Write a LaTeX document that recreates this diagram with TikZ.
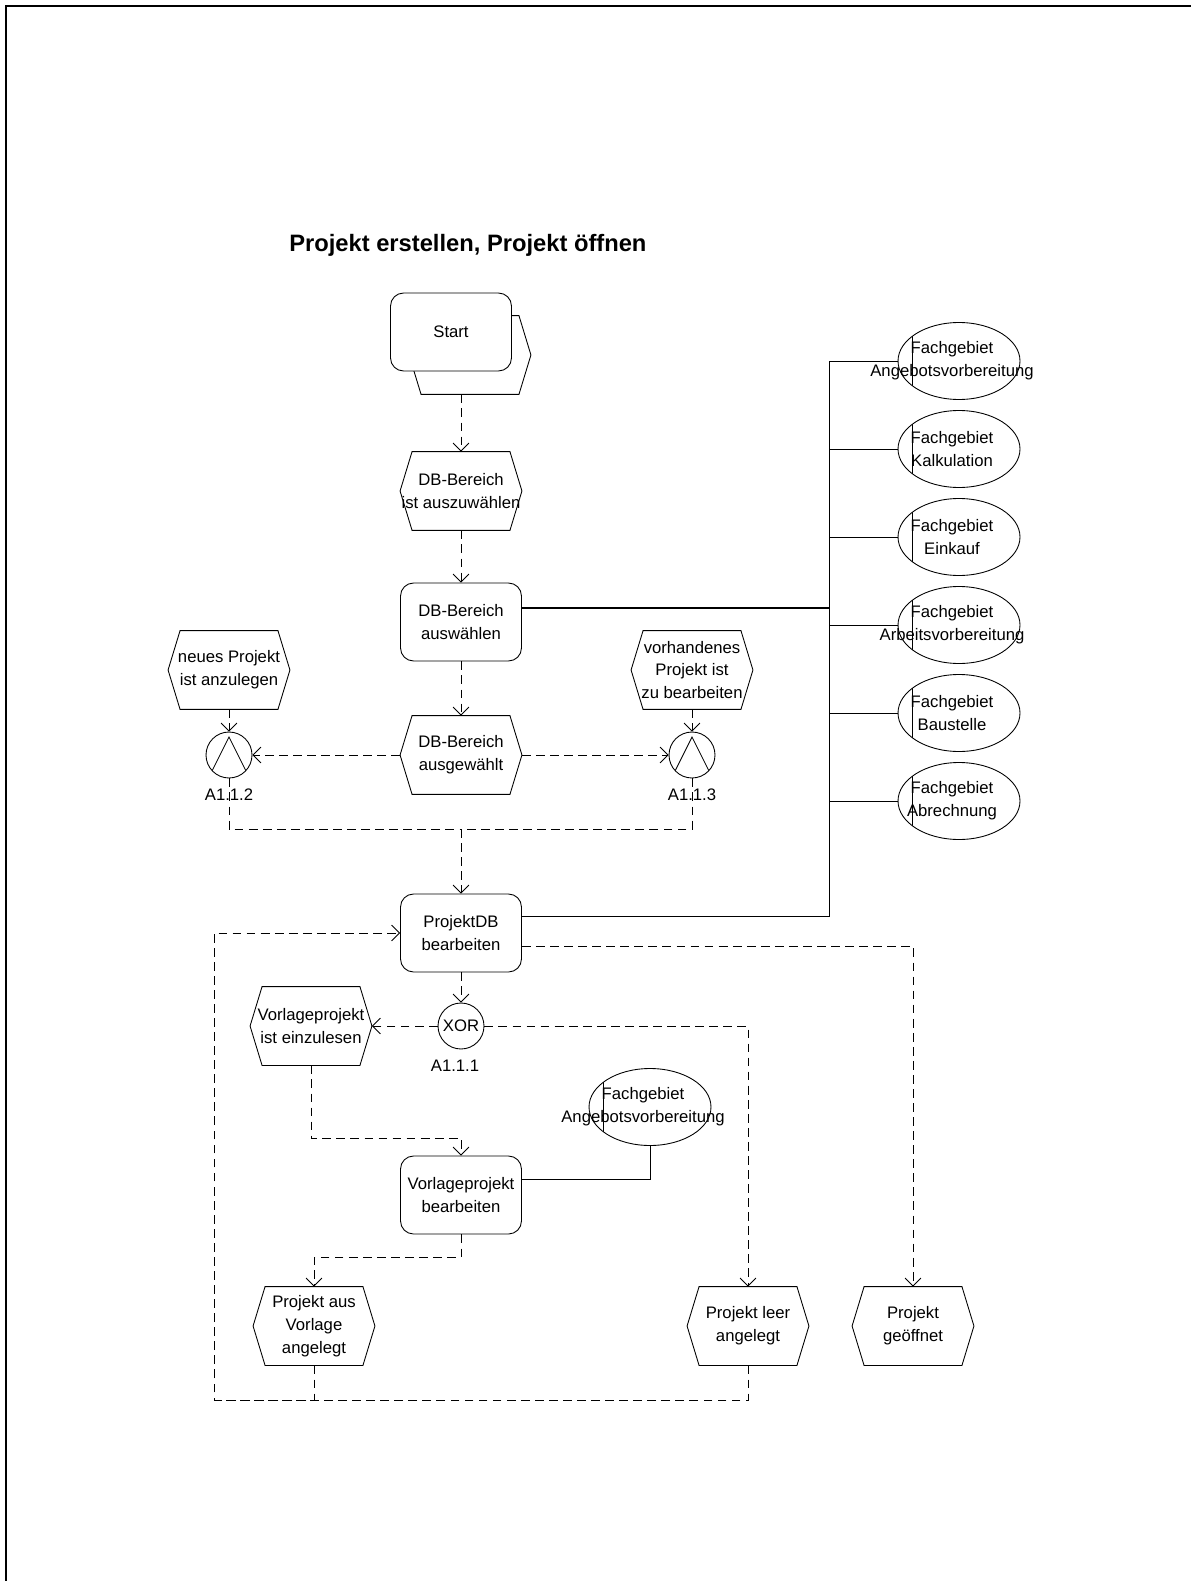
\documentclass[tikz,border=0pt]{standalone}
\usepackage{fontspec}
\setmainfont{Liberation Sans}
\usetikzlibrary{arrows.meta,positioning,shapes.geometric,calc}
\newcommand{\nodefont}{\fontsize{9.5}{13}\selectfont}

\begin{document}
\begin{tikzpicture}[
    x=0.02cm, y=-0.02cm,
    line width=0.5pt,
    >={Straight Barb[length=4.5pt,width=9pt]},
    func/.style={draw, rounded corners=2.6mm, font=\nodefont, align=center, minimum width=24.2mm, minimum height=15.6mm, inner sep=0pt},
    event/.style={font=\nodefont, align=center, minimum width=24.2mm, minimum height=15.6mm, inner sep=0pt,
      append after command={\pgfextra{\let\hexnode\tikzlastnode
        \draw[line width=0.5pt] (\hexnode.west) -- ([xshift=2.4mm]\hexnode.north west) -- ([xshift=-2.4mm]\hexnode.north east)
          -- (\hexnode.east) -- ([xshift=-2.4mm]\hexnode.south east) -- ([xshift=2.4mm]\hexnode.south west) -- cycle;}}},
    orgunit/.style={draw, ellipse, minimum width=24.4mm, minimum height=15.4mm, inner sep=0pt,
      path picture={\draw[line width=0.5pt] ([xshift=2.8mm]path picture bounding box.north west) -- ([xshift=2.8mm]path picture bounding box.south west);}},
    orgtext/.style={font=\nodefont, align=center, inner sep=0pt},
    rule/.style={draw, circle, minimum size=9.2mm, inner sep=0pt, font=\nodefont},
    andrule/.style={rule, path picture={\draw[line width=0.5pt] ([shift={(-4mm,-4.4mm)}]path picture bounding box.center) -- ([yshift=3.6mm]path picture bounding box.center) -- ([shift={(4mm,-4.4mm)}]path picture bounding box.center);}},
    rulelabel/.style={font=\nodefont, inner sep=0pt},
    conn/.style={dash pattern=on 5pt off 3pt},
    flow/.style={conn, ->},
  ]
  \useasboundingbox (0,0) rectangle (1191,1581);
  \draw[line width=1.2pt] (6,1581) -- (6,6) -- (1191,6);

  % title
  \node[font=\fontsize{13.5}{16}\selectfont\bfseries, anchor=west] (title) at (283,245) {Projekt erstellen, Projekt öffnen};

  % start
  \node[event] (startbg) at (470,355) {};
  \node[func, fill=white] (start) at (451,332) {Start};

  % main column
  \node[event] (dbAuszuw) at (461,491) {DB-Bereich\\ist auszuwählen};
  \node[func] (dbAuswaehlen) at (461,622) {DB-Bereich\\auswählen};
  \node[event] (dbGewaehlt) at (461,755) {DB-Bereich\\ausgewählt};
  \node[event] (neuesProj) at (229,670) {neues Projekt\\ist anzulegen};
  \node[event] (vorhProj) at (692,670) {vorhandenes\\Projekt ist\\zu bearbeiten};
  \node[andrule] (and1) at (229,755) {};
  \node[andrule] (and2) at (692,755) {};
  \node[rulelabel] (and1lbl) at (229,795) {A1.1.2};
  \node[rulelabel] (and2lbl) at (692,795) {A1.1.3};
  \coordinate (join) at (461,829);
  \node[func] (projektDB) at (461,933) {ProjektDB\\bearbeiten};
  \node[rule] (xor) at (461,1026) {XOR};
  \node[rulelabel] (xorlbl) at (455,1066) {A1.1.1};
  \node[event] (vorlEinl) at (311,1026) {Vorlageprojekt\\ist einzulesen};
  \node[func] (vorlBearb) at (461,1195) {Vorlageprojekt\\bearbeiten};
  \node[orgunit] (fgAV2) at (650,1107) {};
  \node[orgtext] (fgAV2txt) at ([xshift=-1.4mm]fgAV2.center) {Fachgebiet\\Angebotsvorbereitung};

  % end events
  \node[event] (ausVorlage) at (314,1326) {Projekt aus\\Vorlage\\angelegt};
  \node[event] (leer) at (748,1326) {Projekt leer\\angelegt};
  \node[event] (geoeffnet) at (913,1326) {Projekt\\geöffnet};

  % organisational units
  \coordinate (bus) at (829,361);
  \foreach \n/\y/\t in {fgAV/361/Angebotsvorbereitung, fgKalk/449/Kalkulation, fgEink/537/Einkauf,
      fgArbv/625/Arbeitsvorbereitung, fgBaus/713/Baustelle, fgAbr/801/Abrechnung} {
    \node[orgunit] (\n) at (959,\y) {};
    \node[orgtext] (\n txt) at ([xshift=-1.4mm]\n.center) {Fachgebiet\\\t};
  }

  % control flow
  \draw[flow] (startbg.south -| dbAuszuw.north) -- (dbAuszuw.north);
  \draw[flow] (dbAuszuw) -- (dbAuswaehlen);
  \draw[flow] (dbAuswaehlen) -- (dbGewaehlt);
  \draw[flow] (neuesProj) -- (and1);
  \draw[flow] (vorhProj) -- (and2);
  \draw[flow] (dbGewaehlt) -- (and1);
  \draw[flow] (dbGewaehlt) -- (and2);
  \draw[conn] (and1.south) |- (join);
  \draw[conn] (and2.south) |- (join);
  \draw[flow] (join) -- (projektDB);
  \draw[flow] (projektDB) -- (xor);
  \draw[flow] (xor) -- (vorlEinl);
  \draw[flow] (xor.east) -| (leer.north);
  \draw[flow] (vorlEinl.south) -- ++(0,73) -| (vorlBearb.north);
  \draw[flow] (vorlBearb.south) -- ++(0,23) -| (ausVorlage.north);
  \draw[flow] ([yshift=-2.6mm]projektDB.east) -| (geoeffnet.north);
  \coordinate (loop) at (214,1400);
  \draw[conn] (ausVorlage.south) |- (loop);
  \draw[flow] (leer.south) |- (loop) |- (projektDB.west);

  % organisation links
  \draw[line width=1.2pt] ([yshift=2.8mm]dbAuswaehlen.east) -- ([yshift=2.8mm]dbAuswaehlen.east -| bus);
  \draw ([yshift=3.4mm]projektDB.east) -| (bus) -- (fgAV.west);
  \foreach \n in {fgKalk,fgEink,fgArbv,fgBaus,fgAbr}
    \draw (\n.west) -- (\n.west -| bus);
  \draw ([yshift=3.2mm]vorlBearb.east) -| (fgAV2.south);
\end{tikzpicture}
\end{document}
